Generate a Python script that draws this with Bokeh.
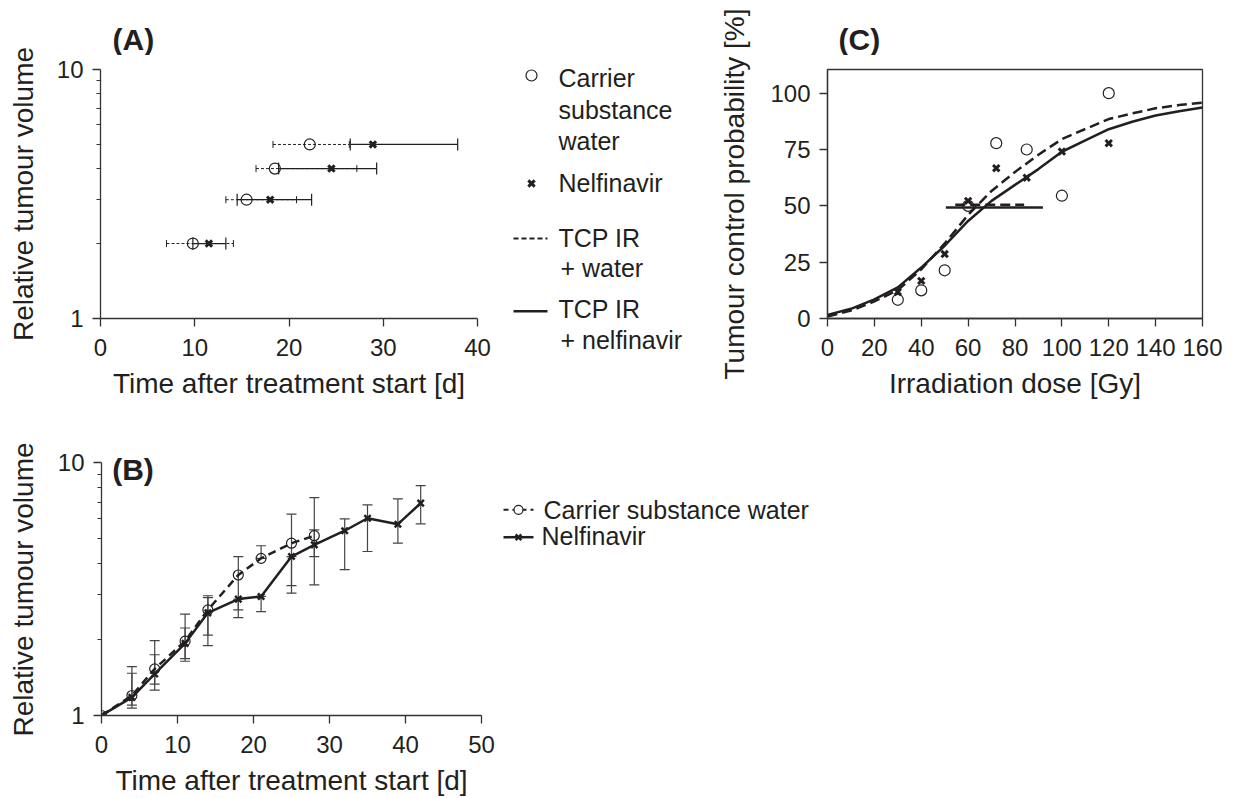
import math
from bokeh.plotting import figure
from bokeh.models import (Range1d, FixedTicker, PrintfTickFormatter, Whisker, TeeHead,
                          ColumnDataSource, Label)
from bokeh.layouts import row, column
from bokeh.embed import file_html
from bokeh.resources import INLINE
from bokeh.core.properties import value

# ---------------- data ----------------
# Panel A: time to reach relative tumour volume
a_volume = [2, 3, 4, 5]
a_water_med = [9.8, 15.5, 18.5, 22.2]
a_water_lo = [7.0, 13.3, 16.5, 18.3]
a_water_hi = [14.1, 20.8, 27.2, 26.4]
a_nelf_med = [11.5, 18.0, 24.5, 28.9]
a_nelf_lo = [9.8, 14.5, 18.9, 26.5]
a_nelf_hi = [13.3, 22.4, 29.3, 37.9]
a_x_ticks = [0, 10, 20, 30, 40]

# Panel B: growth curves
b_days_water = [0, 4, 7, 11, 14, 18, 21, 25, 28]
b_water = [1.0, 1.20, 1.53, 1.97, 2.62, 3.60, 4.19, 4.81, 5.15]
b_water_lo = [1.0, 1.07, 1.33, 1.68, 2.08, 2.62, 4.19, 3.27, 4.26]
b_water_hi = [1.0, 1.56, 1.98, 2.52, 2.98, 4.26, 4.70, 6.27, 5.43]
b_days_nelf = [0, 4, 7, 11, 14, 18, 21, 25, 28, 32, 35, 39, 42]
b_nelf = [1.0, 1.18, 1.46, 1.93, 2.55, 2.89, 2.96, 4.26, 4.74, 5.39, 6.04, 5.72, 6.93]
b_nelf_lo = [1.0, 1.10, 1.26, 1.64, 1.89, 2.44, 2.58, 3.05, 3.29, 3.78, 4.46, 4.81, 5.74]
b_nelf_hi = [1.0, 1.47, 1.74, 2.22, 2.93, 2.89, 2.96, 4.26, 7.29, 6.00, 6.82, 7.20, 8.13]
b_x_ticks = [0, 10, 20, 30, 40, 50]

# Panel C: tumour control probability
c_dose = [30, 40, 50, 60, 72, 85, 100, 120]
c_water = [8.3, 12.5, 21.4, 50.0, 77.8, 75.0, 54.5, 100.0]
c_nelf = [11.8, 16.7, 28.6, 52.2, 66.7, 62.5, 74.1, 77.8]
c_curve_dose = [0, 10, 20, 30, 40, 50, 60, 70, 80, 90, 100, 110, 120, 130, 140, 150, 160]
c_curve_water = [0.9, 3.5, 7.6, 12.6, 21.8, 33.3, 46.0, 56.6, 65.0, 72.7, 79.6, 84.1, 88.5, 91.0, 93.3, 94.7, 95.8]
c_curve_nelf = [1.6, 4.3, 8.5, 13.8, 22.6, 32.3, 43.3, 52.2, 59.3, 66.3, 74.0, 79.0, 84.0, 87.3, 90.1, 92.0, 93.6]
c_tcd50_water = [54.5, 83.9]
c_tcd50_water_level = 50.5
c_tcd50_nelf = [50.5, 91.9]
c_tcd50_nelf_level = 49.3
c_x_ticks = [0, 20, 40, 60, 80, 100, 120, 140, 160]
c_y_ticks = [0, 25, 50, 75, 100]

log_major = [1, 10]
log_minor = [2, 3, 4, 5, 6, 7, 8, 9]

legend_a = ["Carrier", "substance", "water", "Nelfinavir", "TCP IR", "+ water", "TCP IR", "+ nelfinavir"]
legend_b = ["Carrier substance water", "Nelfinavir"]
panel_titles = ["(A)", "(B)", "(C)"]
y_titles = ["Relative tumour volume", "Relative tumour volume", "Tumour control probability [%]"]
x_titles = ["Time after treatment start [d]", "Time after treatment start [d]", "Irradiation dose [Gy]"]

# ---------------- style ----------------
FONT = "Liberation Sans"
INK = "#231f20"
AX = "#333333"


def style(p):
    p.grid.visible = False
    p.background_fill_color = "white"
    p.border_fill_color = "white"
    p.frame_align = False
    for ax in p.axis:
        ax.axis_line_color = AX
        ax.axis_line_width = 1.3
        ax.major_tick_line_color = AX
        ax.major_tick_line_width = 1.3
        ax.minor_tick_line_color = AX
        ax.minor_tick_line_width = 1.1
        ax.major_tick_in = 0
        ax.major_tick_out = 8
        ax.minor_tick_in = 0
        ax.minor_tick_out = 4
        ax.major_label_text_font = FONT
        ax.major_label_text_font_size = "24px"
        ax.major_label_text_color = INK
        ax.axis_label_text_font = FONT
        ax.axis_label_text_font_size = "28px"
        ax.axis_label_text_font_style = "normal"
        ax.axis_label_text_color = INK
    p.xaxis.major_label_standoff = 12
    p.xaxis.axis_label_standoff = 9
    p.yaxis.major_label_standoff = 9


def pixel_fig(w, h):
    # a bare figure whose data units are its own pixels (y downwards)
    p = figure(width=w, height=h, x_range=Range1d(0, w), y_range=Range1d(h, 0),
               output_backend="svg", toolbar_location=None, min_border=0,
               x_axis_location=None, y_axis_location=None)
    p.grid.visible = False
    p.outline_line_color = None
    p.background_fill_color = "white"
    p.border_fill_color = "white"
    p.frame_align = False
    return p


def title_text(p, x, y, text):
    p.text(x=[x], y=[y], text=[text], text_font=value(FONT), text_font_size="30px",
           text_font_style="bold", text_baseline="alphabetic", text_color=INK)


def ylabel_fig(w, h, x, y, text):
    p = pixel_fig(w, h)
    p.text(x=[x], y=[y], text=[text], angle=math.pi / 2, text_font=value(FONT),
           text_font_size="28px", text_align="center", text_baseline="middle", text_color=INK)
    return p


TOP_H = 55  # height of the strip that holds the panel letters

# ---------------- panel A ----------------
labA = ylabel_fig(45, 401, 23.3, 193.5, y_titles[0])
tA = pixel_fig(455, TOP_H)
title_text(tA, 67, 39, panel_titles[0])

pA = figure(width=455, height=401 - TOP_H, x_range=Range1d(0, 40), y_range=Range1d(1, 10),
            y_axis_type="log", output_backend="svg", toolbar_location=None,
            min_border_left=55, min_border_right=23, min_border_top=69 - TOP_H, min_border_bottom=82)
pA.outline_line_color = None
style(pA)
pA.xaxis.ticker = FixedTicker(ticks=a_x_ticks)
pA.yaxis.ticker = FixedTicker(ticks=log_major, minor_ticks=log_minor)
pA.yaxis.formatter = PrintfTickFormatter(format="%d")
pA.xaxis.axis_label = x_titles[0]

srcA_n = ColumnDataSource(dict(y=a_volume, lo=a_nelf_lo, hi=a_nelf_hi))
srcA_w = ColumnDataSource(dict(y=a_volume, lo=a_water_lo, hi=a_water_hi))
pA.add_layout(Whisker(source=srcA_n, base="y", lower="lo", upper="hi", dimension="width",
                      line_color=INK, line_width=1.2,
                      upper_head=TeeHead(size=12, line_color=INK, line_width=1.2),
                      lower_head=TeeHead(size=12, line_color=INK, line_width=1.2)))
pA.add_layout(Whisker(source=srcA_w, base="y", lower="lo", upper="hi", dimension="width",
                      line_color=INK, line_width=1.0, line_dash="3 2",
                      upper_head=TeeHead(size=7, line_color=INK, line_width=1.0),
                      lower_head=TeeHead(size=7, line_color=INK, line_width=1.0)))
pA.scatter(a_water_med, a_volume, marker="circle", size=11, fill_color=None,
           line_color=INK, line_width=1.2)
pA.scatter(a_nelf_med, a_volume, marker="x", size=9, line_color=INK, line_width=3)

# ---------------- legend A ----------------
pLA = pixel_fig(220, 401)
pLA.scatter([31], [75], marker="circle", size=11, fill_color=None, line_color=INK, line_width=1.2)
pLA.scatter([31], [183], marker="x", size=9, line_color=INK, line_width=3)
pLA.line([13, 47], [238, 238], line_color=INK, line_width=2, line_dash="5 3")
pLA.line([13, 47], [310.7, 310.7], line_color=INK, line_width=2.5)
pLA.text(x=[58, 58, 58, 58, 58, 60, 58, 60], y=[77, 109.5, 140, 182, 237, 267, 308, 339],
         text=legend_a, text_font=value(FONT), text_font_size="25px",
         text_baseline="alphabetic", text_color=INK)

# ---------------- panel C ----------------
labC = ylabel_fig(40, 401, 14.3, 193.5, y_titles[2])
tC = pixel_fig(476, TOP_H)
title_text(tC, 78, 39, panel_titles[2])

pC = figure(width=476, height=401 - TOP_H, x_range=Range1d(0, 160), y_range=Range1d(0, 110.5),
            output_backend="svg", toolbar_location=None,
            min_border_left=67, min_border_right=34, min_border_top=69 - TOP_H, min_border_bottom=83)
style(pC)
pC.outline_line_color = AX
pC.outline_line_width = 1.3
pC.xaxis.ticker = FixedTicker(ticks=c_x_ticks)
pC.yaxis.ticker = FixedTicker(ticks=c_y_ticks)
pC.xaxis.axis_label = x_titles[2]
pC.line(c_curve_dose, c_curve_water, line_color=INK, line_width=2.5, line_dash="10 5")
pC.line(c_curve_dose, c_curve_nelf, line_color=INK, line_width=2.5)
pC.line(c_tcd50_water, [c_tcd50_water_level] * 2, line_color=INK, line_width=2.5, line_dash="10 5")
pC.line(c_tcd50_nelf, [c_tcd50_nelf_level] * 2, line_color=INK, line_width=2.5)
pC.scatter(c_dose, c_water, marker="circle", size=11, fill_color=None, line_color=INK, line_width=1.2)
pC.scatter(c_dose, c_nelf, marker="x", size=9, line_color=INK, line_width=3)

# ---------------- panel B ----------------
labB = ylabel_fig(45, 397, 23.3, 188, y_titles[1])
pB = figure(width=455, height=397, x_range=Range1d(0, 50), y_range=Range1d(1, 11.2),
            y_axis_type="log", output_backend="svg", toolbar_location=None,
            min_border_left=56, min_border_right=19, min_border_top=49, min_border_bottom=82)
pB.outline_line_color = None
style(pB)
pB.xaxis.ticker = FixedTicker(ticks=b_x_ticks)
pB.yaxis.ticker = FixedTicker(ticks=log_major, minor_ticks=log_minor)
pB.yaxis.bounds = (1, 10)
pB.yaxis.formatter = PrintfTickFormatter(format="%d")
pB.xaxis.axis_label = x_titles[1]

srcB_w = ColumnDataSource(dict(x=b_days_water[1:], lo=b_water_lo[1:], hi=b_water_hi[1:]))
srcB_n = ColumnDataSource(dict(x=b_days_nelf[1:], lo=b_nelf_lo[1:], hi=b_nelf_hi[1:]))
for src in (srcB_w, srcB_n):
    pB.add_layout(Whisker(source=src, base="x", lower="lo", upper="hi", dimension="height",
                          line_color="#444444", line_width=1.2,
                          upper_head=TeeHead(size=10, line_color="#444444", line_width=1.2),
                          lower_head=TeeHead(size=10, line_color="#444444", line_width=1.2)))
pB.line(b_days_water, b_water, line_color=INK, line_width=2.5, line_dash="8 5")
pB.line(b_days_nelf, b_nelf, line_color=INK, line_width=2.5)
pB.scatter(b_days_water, b_water, marker="circle", size=10, fill_color=None, line_color=INK, line_width=1.2)
pB.scatter(b_days_nelf, b_nelf, marker="x", size=9, line_color=INK, line_width=2.5)
pB.add_layout(Label(x=1.4, y=9.43, text=panel_titles[1], text_font=FONT, text_font_size="30px",
                    text_font_style="bold", text_color=INK, text_baseline="middle"))

# ---------------- legend B ----------------
pLB = pixel_fig(736, 397)
pLB.line([3, 33], [108.3, 108.3], line_color=INK, line_width=2, line_dash="5 4")
pLB.scatter([18], [108.3], marker="circle", size=9, fill_color="white", line_color=INK, line_width=1.2)
pLB.line([3, 33], [135.7, 135.7], line_color=INK, line_width=2.5)
pLB.scatter([18], [135.7], marker="x", size=8, line_color=INK, line_width=2.5)
pLB.text(x=[43, 41], y=[108.3, 134.5], text=legend_b, text_font=value(FONT),
         text_font_size="25px", text_baseline="alphabetic", text_color=INK)

layout = column(row(labA, column(tA, pA), pLA, labC, column(tC, pC)),
                row(labB, pB, pLB))
open("out.html", "w").write(file_html(layout, INLINE))
